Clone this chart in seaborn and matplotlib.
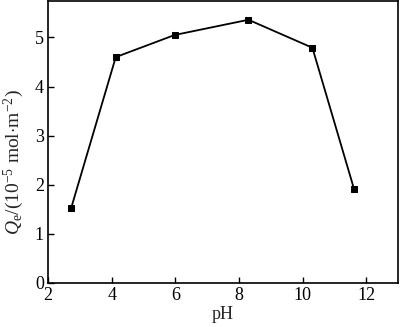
import matplotlib
matplotlib.use("Agg")
import matplotlib.pyplot as plt
import seaborn as sns
import pandas as pd

pH = [2.73, 4.13, 5.98, 8.3, 10.31, 11.62]
Qe = [1.53, 4.60, 5.05, 5.36, 4.79, 1.91]
xticks = [2, 4, 6, 8, 10, 12]
yticks = [0, 1, 2, 3, 4, 5]

sns.set_theme(style="ticks")
plt.rcParams['font.family'] = ['Liberation Serif', 'DejaVu Serif']
plt.rcParams['mathtext.fontset'] = 'custom'
plt.rcParams['mathtext.rm'] = 'Liberation Serif'
plt.rcParams['mathtext.it'] = 'Liberation Serif:italic'

df = pd.DataFrame({"pH": pH, "Qe": Qe})
fig = plt.figure(figsize=(4.0, 3.27), dpi=100)
ax = fig.add_axes([0.12, 0.1346, 0.875, 0.862])
sns.lineplot(data=df, x="pH", y="Qe", ax=ax, color="black", linewidth=1.3,
             marker="s", markersize=5, markeredgecolor="black", markerfacecolor="black")
ax.set_xlim(2, 13)
ax.set_ylim(0, 5.74)
ax.set_xticks(xticks)
ax.set_yticks(yticks)
ax.tick_params(direction="in", length=4, width=1, labelsize=13, colors="black", pad=3)
for s in ax.spines.values():
    s.set_linewidth(1.2)
    s.set_color("black")
ax.set_xlabel("pH", fontsize=13, labelpad=1)
ax.set_ylabel(r"$Q_\mathrm{e}$/(10$^{-5}$ mol$\cdot$m$^{-2}$)", fontsize=14)
ax.yaxis.set_label_coords(-0.062, 0.43)
fig.savefig("out.png", dpi=100)
